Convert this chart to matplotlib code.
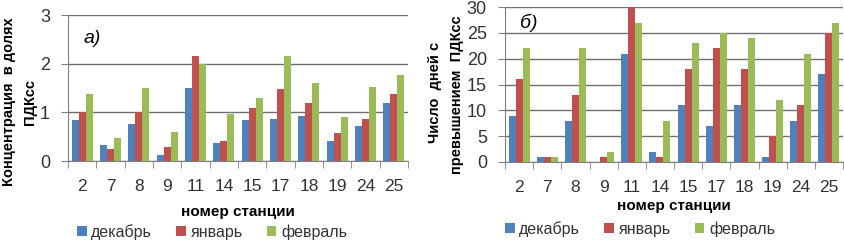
import numpy as np
import matplotlib.pyplot as plt

plt.rcParams['font.family'] = ['Liberation Sans', 'DejaVu Sans']

stations = ['2', '7', '8', '9', '11', '14', '15', '17', '18', '19', '24', '25']
months = ['декабрь', 'январь', 'февраль']
colors = ['#4F81BD', '#C0504D', '#9BBB59']

# a) concentration, fractions of PDKss
conc_dec = [0.85, 0.32, 0.76, 0.12, 1.50, 0.38, 0.85, 0.87, 0.92, 0.42, 0.72, 1.20]
conc_jan = [1.00, 0.25, 1.00, 0.28, 2.15, 0.42, 1.08, 1.47, 1.20, 0.58, 0.87, 1.37]
conc_feb = [1.37, 0.48, 1.50, 0.60, 2.00, 0.97, 1.30, 2.15, 1.60, 0.90, 1.52, 1.77]

# б) number of days above PDKss
days_dec = [9, 1, 8, 0, 21, 2, 11, 7, 11, 1, 8, 17]
days_jan = [16, 1, 13, 1, 30, 1, 18, 22, 18, 5, 11, 25]
days_feb = [22, 1, 22, 2, 27, 8, 23, 25, 24, 12, 21, 27]

W, H = 845, 244
fig = plt.figure(figsize=(W / 100, H / 100), dpi=100)

def draw(ax, series, ymax, ystep, tag, tag_xy, leg_xy, ypad, xlpad):
    x = np.arange(len(stations))
    w = 0.25
    for i, (vals, c, lab) in enumerate(zip(series, colors, months)):
        ax.bar(x + (i - 1) * w, vals, w, color=c, label=lab, zorder=3)
    ax.set_xlim(-0.5, len(stations) - 0.5)
    ax.set_ylim(0, ymax)
    ax.set_yticks(np.arange(0, ymax + 0.001, ystep))
    ax.yaxis.grid(True, color='#6e6e6e', linewidth=1.0, zorder=0)
    ax.set_xticks(x)
    ax.set_xticklabels(stations, fontsize=12.5)
    ax.set_xticks(np.arange(-0.5, len(stations)), minor=True)
    ax.tick_params(axis='x', which='major', length=0, pad=13)
    ax.tick_params(axis='x', which='minor', length=5, color='#808080')
    ax.tick_params(axis='y', length=5, color='#808080', labelsize=13,
                   pad=ypad, labelcolor='#333333')
    ax.tick_params(axis='x', labelcolor='#333333')
    for s in ['top', 'right']:
        ax.spines[s].set_visible(False)
    ax.spines['left'].set_color('#808080')
    ax.spines['bottom'].set_color('#808080')
    ax.set_xlabel('номер станции', fontsize=11, fontweight='bold', labelpad=xlpad)
    fig.text(tag_xy[0] / W, 1 - tag_xy[1] / H, tag, fontsize=14,
             style='italic', va='center', ha='left')
    ax.legend(loc='center', bbox_to_anchor=leg_xy, bbox_transform=fig.transFigure,
              ncol=3, frameon=False, fontsize=11.5, handlelength=0.6,
              handleheight=0.6, handletextpad=0.3, columnspacing=1.5,
              borderaxespad=0, borderpad=0, labelcolor='#333333')

ax1 = fig.add_axes([68 / W, 1 - 161 / H, 340 / W, 146 / H])
draw(ax1, [conc_dec, conc_jan, conc_feb], 3, 1, 'а)', (84, 38),
     (212 / W, 1 - 232 / H), 8, 8)
fig.text(9 / W, 1 - 102 / H, 'Концентрация  в долях', rotation=90,
         fontsize=10.5, fontweight='bold', ha='center', va='center')
fig.text(30 / W, 1 - 102 / H, 'ПДКсс', rotation=90,
         fontsize=10.5, fontweight='bold', ha='center', va='center')

ax2 = fig.add_axes([505 / W, 1 - 162 / H, 338 / W, 155 / H])
draw(ax2, [days_dec, days_jan, days_feb], 30, 5, 'б)', (520, 23),
     (640 / W, 1 - 229 / H), 8, 3)
fig.text(435 / W, 1 - 92 / H, 'Число  дней с', rotation=90,
         fontsize=10.5, fontweight='bold', ha='center', va='center')
fig.text(457 / W, 1 - 95 / H, 'превышением  ПДКсс', rotation=90,
         fontsize=10.5, fontweight='bold', ha='center', va='center')

fig.savefig('out.png', dpi=100)
